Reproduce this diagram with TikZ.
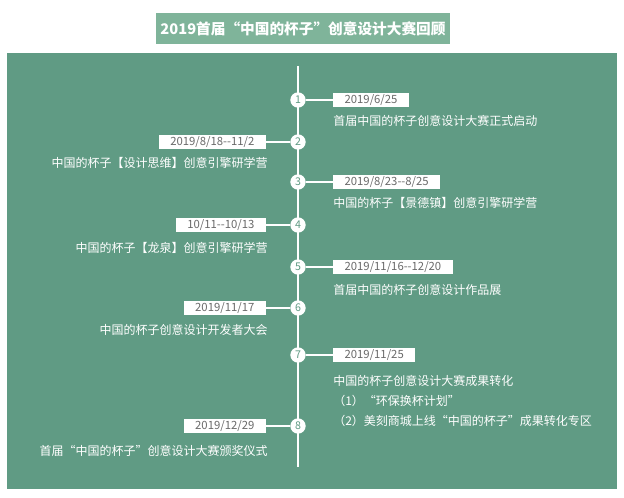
\documentclass[tikz,border=0pt]{standalone}
\usepackage{fontspec}
\setmainfont{Noto Sans CJK SC}
\usepackage{tikz}
\usetikzlibrary{positioning}
\definecolor{cupGreen}{HTML}{609B84}
\definecolor{cupLight}{HTML}{7FB49A}
\definecolor{dateGray}{HTML}{6A6A6A}
\tikzset{
  stepnum/.style={circle, draw=white, fill=white, line width=1pt, inner sep=0pt, minimum size=10.5pt, text=cupGreen, font=\fontsize{8}{8}\selectfont},
  datebox/.style={fill=white, text=dateGray, inner xsep=8.5pt, inner ysep=0pt, minimum height=10.5pt, font=\fontsize{8.5}{9}\selectfont},
  desc/.style={text=white, inner sep=0pt, font=\fontsize{9}{15.2}\selectfont},
  link/.style={draw=white, line width=1.5pt}
}

\begin{document}
\begin{tikzpicture}[x=0.75pt, y=-0.75pt]
\useasboundingbox (0,0) rectangle (624,498);
% --- background and title ---
\fill[cupGreen] (7,53) rectangle (617,489);
\node[fill=cupLight, minimum width=216pt, minimum height=23.25pt, text=white, font=\bfseries\fontsize{11}{13}\selectfont] (title) at (303,28.5) {2019首届“中国的杯子”创意设计大赛回顾};
% --- time axis ---
\coordinate (axtop) at (298,66);
\coordinate (axbot) at (298,467);
\draw[link] (axtop) -- (axbot);
\foreach \n/\y in {1/100,2/142,3/182,4/225,5/267,6/308,7/355,8/426}
  \node[stepnum] (c\n) at (298,\y) {\n};
% --- right side events ---
\node[datebox, anchor=west] (d1) at (333,100) {2019/6/25};
\node[desc, anchor=west] (t1) at (333,121) {首届中国的杯子创意设计大赛正式启动};
\node[datebox, anchor=west] (d3) at (333,182) {2019/8/23-{}-8/25};
\node[desc, anchor=west] (t3) at (333,203) {中国的杯子【景德镇】创意引擎研学营};
\node[datebox, anchor=west] (d5) at (333,267) {2019/11/16-{}-12/20};
\node[desc, anchor=west] (t5) at (333,290) {首届中国的杯子创意设计作品展};
\node[datebox, anchor=west] (d7) at (333,355) {2019/11/25};
\node[desc, anchor=west, align=left] (t7) at (333,401) {中国的杯子创意设计大赛成果转化\\（1）“环保换杯计划”\\（2）美刻商城上线“中国的杯子”成果转化专区};
% --- left side events ---
\node[datebox, anchor=east] (d2) at (266,142) {2019/8/18-{}-11/2};
\node[desc, anchor=east] (t2) at (268,163) {中国的杯子【设计思维】创意引擎研学营};
\node[datebox, anchor=east] (d4) at (266,225) {10/11-{}-10/13};
\node[desc, anchor=east] (t4) at (268,248) {中国的杯子【龙泉】创意引擎研学营};
\node[datebox, anchor=east] (d6) at (266,308) {2019/11/17};
\node[desc, anchor=east] (t6) at (268,330) {中国的杯子创意设计开发者大会};
\node[datebox, anchor=east] (d8) at (266,426) {2019/12/29};
\node[desc, anchor=east] (t8) at (268,451) {首届“中国的杯子”创意设计大赛颁奖仪式};
% --- connectors ---
\foreach \n in {1,...,8}
  \draw[link] (c\n) -- (d\n);
\end{tikzpicture}
\end{document}
